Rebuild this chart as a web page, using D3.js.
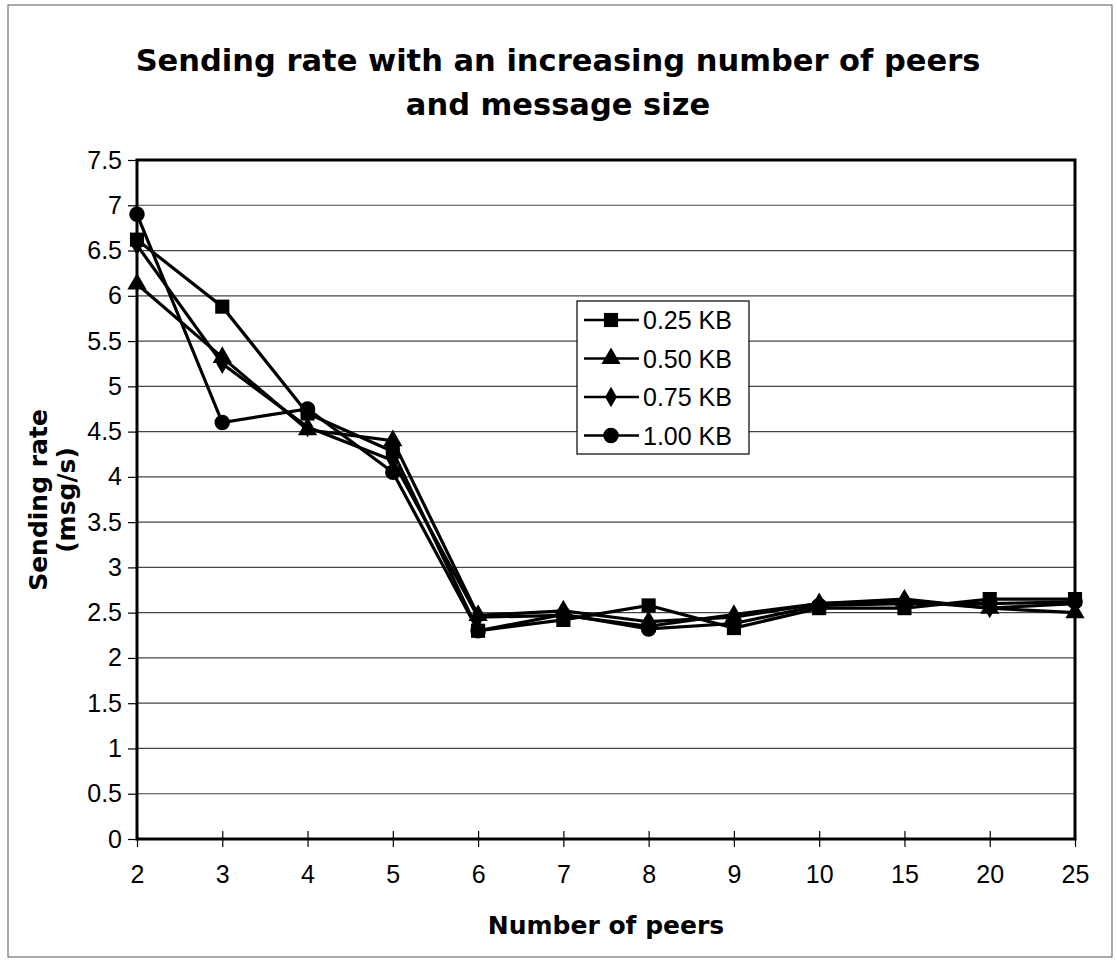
<!DOCTYPE html>
<html>
<head>
<meta charset="utf-8">
<script src="https://cdn.jsdelivr.net/npm/d3@7"></script>
<style>
  body { margin: 0; background: #fff; }
</style>
</head>
<body>
<div id="graphic"></div>
<script>
// data
var peers = ["2", "3", "4", "5", "6", "7", "8", "9", "10", "15", "20", "25"];
var yTicks = [0, 0.5, 1, 1.5, 2, 2.5, 3, 3.5, 4, 4.5, 5, 5.5, 6, 6.5, 7, 7.5];
var seriesNames = ["0.25 KB", "0.50 KB", "0.75 KB", "1.00 KB"];
var rate025 = [6.62, 5.88, 4.70, 4.28, 2.30, 2.42, 2.58, 2.33, 2.55, 2.55, 2.65, 2.65];
var rate050 = [6.13, 5.32, 4.52, 4.40, 2.47, 2.52, 2.40, 2.45, 2.60, 2.63, 2.55, 2.50];
var rate075 = [6.56, 5.25, 4.55, 4.18, 2.45, 2.47, 2.35, 2.48, 2.60, 2.65, 2.55, 2.60];
var rate100 = [6.90, 4.60, 4.75, 4.05, 2.30, 2.48, 2.32, 2.38, 2.58, 2.60, 2.60, 2.62];

var series = [
  { name: seriesNames[0], values: rate025, symbol: d3.symbolSquare, size: 200 },
  { name: seriesNames[1], values: rate050, symbol: d3.symbolTriangle, size: 160 },
  { name: seriesNames[2], values: rate075, symbol: d3.symbolDiamond, size: 120 },
  { name: seriesNames[3], values: rate100, symbol: d3.symbolCircle, size: 190 }
];

var W = 1117, H = 964;
var plotLeft = 137, plotRight = 1075, plotTop = 160, plotBottom = 839;

var svg = d3.select("#graphic").append("svg")
    .attr("width", W)
    .attr("height", H);

// outer chart frame
svg.append("rect")
    .attr("x", 8).attr("y", 5)
    .attr("width", 1104).attr("height", 952)
    .attr("fill", "none")
    .attr("stroke", "#555")
    .attr("stroke-width", 1);

var x = d3.scalePoint().domain(peers).range([plotLeft, plotRight]).padding(0);
var y = d3.scaleLinear().domain([0, 7.5]).range([plotBottom, plotTop]);

// gridlines
svg.append("g").selectAll("line")
    .data(yTicks.filter(function (d) { return d > 0 && d < 7.5; }))
    .join("line")
    .attr("x1", plotLeft).attr("x2", plotRight)
    .attr("y1", function (d) { return y(d); })
    .attr("y2", function (d) { return y(d); })
    .attr("stroke", "#444")
    .attr("stroke-width", 1.2);

// y axis
var yAxis = svg.append("g")
    .attr("transform", "translate(" + plotLeft + ",0)")
    .call(d3.axisLeft(y).tickValues(yTicks).tickSize(9).tickPadding(6)
      .tickFormat(function (d) { return String(d); }));
yAxis.select(".domain").remove();
yAxis.selectAll("line").attr("stroke", "#000").attr("stroke-width", 1.2);
yAxis.selectAll("text")
    .attr("font-family", "Liberation Sans, Arial, sans-serif")
    .attr("font-size", 25)
    .attr("fill", "#000");

// x axis
var xAxis = svg.append("g")
    .attr("transform", "translate(0," + plotBottom + ")")
    .call(d3.axisBottom(x).tickSize(8).tickPadding(18));
xAxis.select(".domain").remove();
xAxis.selectAll("line").attr("y1", -8).attr("stroke", "#000").attr("stroke-width", 1.2);
xAxis.selectAll("text")
    .attr("font-family", "Liberation Sans, Arial, sans-serif")
    .attr("font-size", 25)
    .attr("fill", "#000");

// plot frame
svg.append("rect")
    .attr("x", plotLeft).attr("y", plotTop)
    .attr("width", plotRight - plotLeft).attr("height", plotBottom - plotTop)
    .attr("fill", "none")
    .attr("stroke", "#000")
    .attr("stroke-width", 3);

// lines
var line = d3.line()
    .x(function (d, i) { return x(peers[i]); })
    .y(function (d) { return y(d); });

svg.append("g").selectAll("path")
    .data(series)
    .join("path")
    .attr("d", function (s) { return line(s.values); })
    .attr("fill", "none")
    .attr("stroke", "#000")
    .attr("stroke-width", 3.2);

// markers
series.forEach(function (s) {
  svg.append("g").selectAll("path")
      .data(s.values)
      .join("path")
      .attr("transform", function (d, i) { return "translate(" + x(peers[i]) + "," + y(d) + ")"; })
      .attr("d", d3.symbol().type(s.symbol).size(s.size))
      .attr("fill", "#000");
});

// legend
var legend = svg.append("g");
legend.append("rect")
    .attr("x", 577).attr("y", 301)
    .attr("width", 172).attr("height", 153)
    .attr("fill", "#fff")
    .attr("stroke", "#000")
    .attr("stroke-width", 1.2);

var item = legend.selectAll("g")
    .data(series)
    .join("g")
    .attr("transform", function (d, i) { return "translate(0," + (320 + i * 38.5) + ")"; });
item.append("line")
    .attr("x1", 584).attr("x2", 639)
    .attr("stroke", "#000").attr("stroke-width", 2.5);
item.append("path")
    .attr("transform", "translate(611,0)")
    .attr("d", function (s) { return d3.symbol().type(s.symbol).size(s.size)(); })
    .attr("fill", "#000");
item.append("text")
    .attr("x", 643).attr("y", 9)
    .attr("font-family", "Liberation Sans, Arial, sans-serif")
    .attr("font-size", 25)
    .text(function (s) { return s.name; });

// title
var title = svg.append("text")
    .attr("text-anchor", "middle")
    .attr("font-family", "DejaVu Sans, Verdana, sans-serif")
    .attr("font-weight", "bold")
    .attr("font-size", 30.5);
title.append("tspan").attr("x", 558).attr("y", 71).text("Sending rate with an increasing number of peers");
title.append("tspan").attr("x", 558).attr("y", 115).text("and message size");

// axis titles
svg.append("text")
    .attr("x", 606).attr("y", 934)
    .attr("text-anchor", "middle")
    .attr("font-family", "DejaVu Sans, Verdana, sans-serif")
    .attr("font-weight", "bold")
    .attr("font-size", 25)
    .text("Number of peers");

var yTitle = svg.append("text")
    .attr("transform", "translate(0,500) rotate(-90)")
    .attr("text-anchor", "middle")
    .attr("font-family", "DejaVu Sans, Verdana, sans-serif")
    .attr("font-weight", "bold")
    .attr("font-size", 25);
yTitle.append("tspan").attr("x", 0).attr("y", 47).text("Sending rate");
yTitle.append("tspan").attr("x", 0).attr("y", 75).text("(msg/s)");
</script>
</body>
</html>
